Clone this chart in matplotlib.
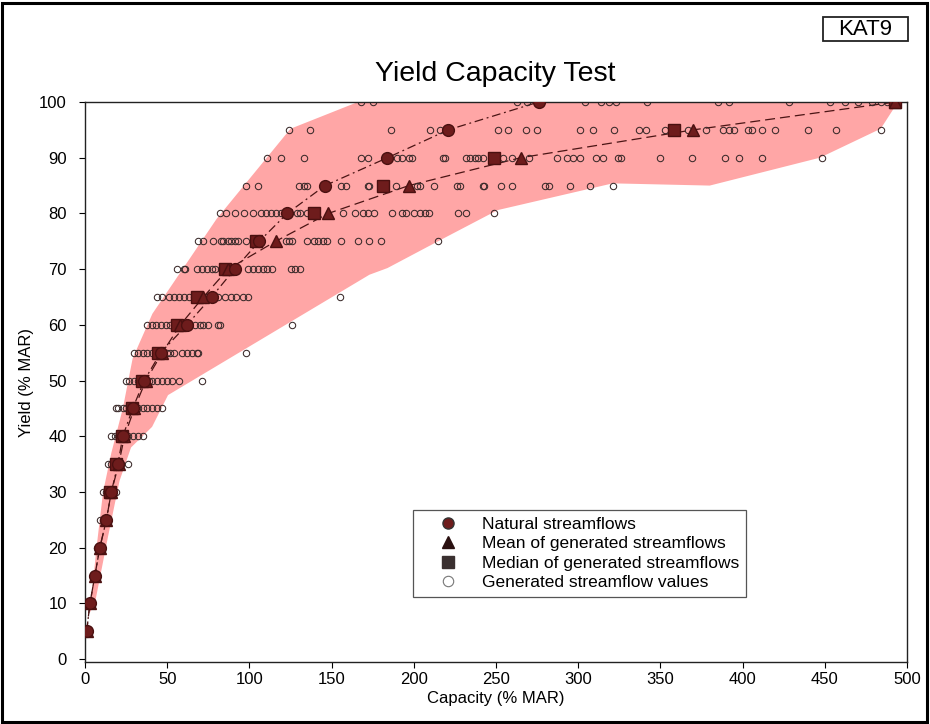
import matplotlib
matplotlib.use("Agg")
import matplotlib.pyplot as plt
from matplotlib.lines import Line2D
from matplotlib.patches import Rectangle

plt.rcParams['font.family'] = ['Liberation Sans', 'DejaVu Sans']

nan = float('nan')

# ---------------- data ----------------
yields = [5, 10, 15, 20, 25, 30, 35, 40, 45, 50, 55, 60, 65, 70, 75, 80, 85, 90, 95, 100]
natural = [1, 3, 6, 9, 13, 16, 20, 23, 29, 36, 46, 62, 77, 91, 106, 123, 146, 184, 221, 276]
median = [nan, nan, nan, nan, nan, 15, 19, 22.5, 28.5, 34.5, 44.5, 56, 68, 85, 104, 139, 181,
          249, 358, 493]
mean = [1, 3, 6, 9, 13, 16, 20.5, 24, 30, 37, 47, 58, 72, 87, 116, 148, 197, 265, 370, 493]

gen_5 = [1]
gen_10 = [3]
gen_15 = [5, 6]
gen_20 = [7, 8, 9]
gen_25 = [9, 11, 13, 14]
gen_30 = [11, 13, 15, 17, 19]
gen_35 = [14, 16, 18, 20, 22, 26]
gen_40 = [16, 18, 20, 22, 24, 26, 29, 32, 35]
gen_45 = [19, 20, 23, 25, 27, 30, 32, 35, 38, 41, 44, 47]
gen_50 = [25, 27, 30, 32, 34, 37, 39, 41, 44, 47, 50, 53, 57, 71]
gen_55 = [30, 32, 35, 38, 41, 43, 47, 50, 52, 54, 59, 62, 65, 68, 69, 98]
gen_60 = [38, 41, 43, 46, 49, 52, 54, 58, 67, 70, 72, 75, 81, 82, 126]
gen_65 = [44, 47, 51, 54, 57, 60, 63, 66, 70, 74, 81, 85, 89, 92, 96, 99, 155]
gen_70 = [56, 60, 61, 68, 71, 74, 77, 79, 83, 87, 99, 102, 105, 108, 111, 114, 125, 128, 131]
gen_75 = [69, 72, 78, 83, 84, 87, 89, 91, 93, 98, 104, 122, 124, 126, 135, 139, 142, 145,
          147, 156, 166, 173, 180, 215]
gen_80 = [82, 86, 91, 97, 102, 107, 110, 113, 116, 119, 129, 131, 135, 140, 157, 164, 169,
          172, 176, 187, 193, 195, 200, 204, 207, 209, 227, 232, 249]
gen_85 = [98, 105, 130, 133, 135, 156, 159, 172, 173, 189, 202, 204, 212, 226, 228, 242, 243,
          253, 260, 280, 282, 295, 307, 321]
gen_90 = [111, 119, 133, 168, 172, 190, 193, 197, 199, 218, 219, 232, 234, 237, 239, 242, 248,
          254, 260, 270, 287, 293, 297, 301, 311, 315, 324, 326, 350, 369, 389, 398, 412, 448]
gen_95 = [124, 137, 186, 210, 216, 251, 257, 268, 275, 301, 309, 322, 337, 341, 353, 367, 378,
          388, 392, 395, 403, 406, 412, 420, 440, 457, 484]
gen_100 = [168, 175, 263, 269, 304, 314, 319, 323, 342, 385, 392, 428, 453, 462, 470, 479, 484,
           488, 493]

generated = [gen_5, gen_10, gen_15, gen_20, gen_25, gen_30, gen_35, gen_40, gen_45, gen_50,
             gen_55, gen_60, gen_65, gen_70, gen_75, gen_80, gen_85, gen_90, gen_95, gen_100]

# envelope of generated values (boundary vertices)
env_left_cap = [3, 7, 11, 16, 23, 29, 41, 80, 125, 166]
env_left_yield = [8.4, 20, 30, 37, 45, 54, 62, 79, 95.2, 100]
env_right_cap = [3, 6, 14, 21, 28, 40.8, 50.5, 173, 184, 216, 251, 321, 380, 447, 484, 494.5]
env_right_yield = [8.4, 10, 22, 32, 38, 41.7, 47.4, 69, 70.2, 75.2, 80.6, 85.4, 85.0, 90, 95.2, 100]

# ---------------- plot ----------------
W, H = 930, 724
fig = plt.figure(figsize=(W / 100, H / 100), dpi=100)
ax = fig.add_axes([85 / W, 1 - 662 / H, (907 - 85) / W, (662 - 102) / H])

maroon = '#6e1c1c'
pink = '#ffa6a6'

poly_x = env_left_cap + env_right_cap[::-1]
poly_y = env_left_yield + env_right_yield[::-1]
ax.fill(poly_x, poly_y, color=pink, lw=0, zorder=0)

ax.plot(natural, yields, color='#4a1414', lw=0.9, ls=(0, (7, 3, 1.5, 3)), zorder=1)
ax.plot(mean, yields, color='#4a1414', lw=0.9, ls=(0, (8, 4)), zorder=1)

for y, vals in zip(yields, generated):
    ax.plot(vals, [y] * len(vals), ls='none', marker='o', ms=4.6, mfc='none',
            mec='#3a2a2a', mew=0.75, zorder=2)

ax.plot(median, yields, ls='none', marker='s', ms=8.5, color=maroon, mec='#4a1010', zorder=3)
ax.plot(mean, yields, ls='none', marker='^', ms=8, color=maroon, mec='#4a1010', zorder=3)
ax.plot(natural, yields, ls='none', marker='o', ms=8.5, color=maroon, mec='#4a1010', zorder=4)

ax.set_xlim(0, 500)
ax.set_ylim(-0.5, 100)
ax.set_xticks(range(0, 501, 50))
ax.set_yticks(range(0, 101, 10))
ax.tick_params(direction='out', length=4, width=0.8, labelsize=12, pad=3)
ax.tick_params(axis='y', pad=9)
for s in ax.spines.values():
    s.set_linewidth(1.0)
    s.set_color('#222222')

ax.set_xlabel('Capacity (% MAR)', fontsize=12, labelpad=3)
ax.set_ylabel('Yield (% MAR)', fontsize=12, labelpad=4)
fig.text(495 / W, 1 - 74 / H, 'Yield Capacity Test', fontsize=20.5, ha='center', va='center')

handles = [
    Line2D([], [], ls='none', marker='o', ms=8, color=maroon, mec='#333333'),
    Line2D([], [], ls='none', marker='^', ms=8.5, color='#2a1010'),
    Line2D([], [], ls='none', marker='s', ms=8, color='#3a3030'),
    Line2D([], [], ls='none', marker='o', ms=7.5, mfc='none', mec='#777777', mew=0.8),
]
labels = ['Natural streamflows', 'Mean of generated streamflows',
          'Median of generated streamflows', 'Generated streamflow values']
leg = ax.legend(handles, labels, loc='upper left', bbox_to_anchor=(413 / W, 1 - 510 / H),
                bbox_transform=fig.transFigure, borderaxespad=0, fontsize=12.5,
                frameon=True, fancybox=False, edgecolor='#555555', framealpha=1,
                borderpad=0.4, handlelength=3.2, handletextpad=0.35, labelspacing=0.24)
leg.get_frame().set_linewidth(0.9)

fig.patches.append(Rectangle((823 / W, 1 - 41 / H), 85 / W, 24 / H, transform=fig.transFigure,
                             fill=True, fc='white', ec='#222222', lw=1.3))
fig.text(865 / W, 1 - 29.5 / H, 'KAT9', fontsize=16, ha='center', va='center')

fig.patches.append(Rectangle((0.002, 0.003), 0.995, 0.993, transform=fig.transFigure,
                             fill=False, ec='black', lw=2.2))

fig.savefig('out.png', dpi=100)
